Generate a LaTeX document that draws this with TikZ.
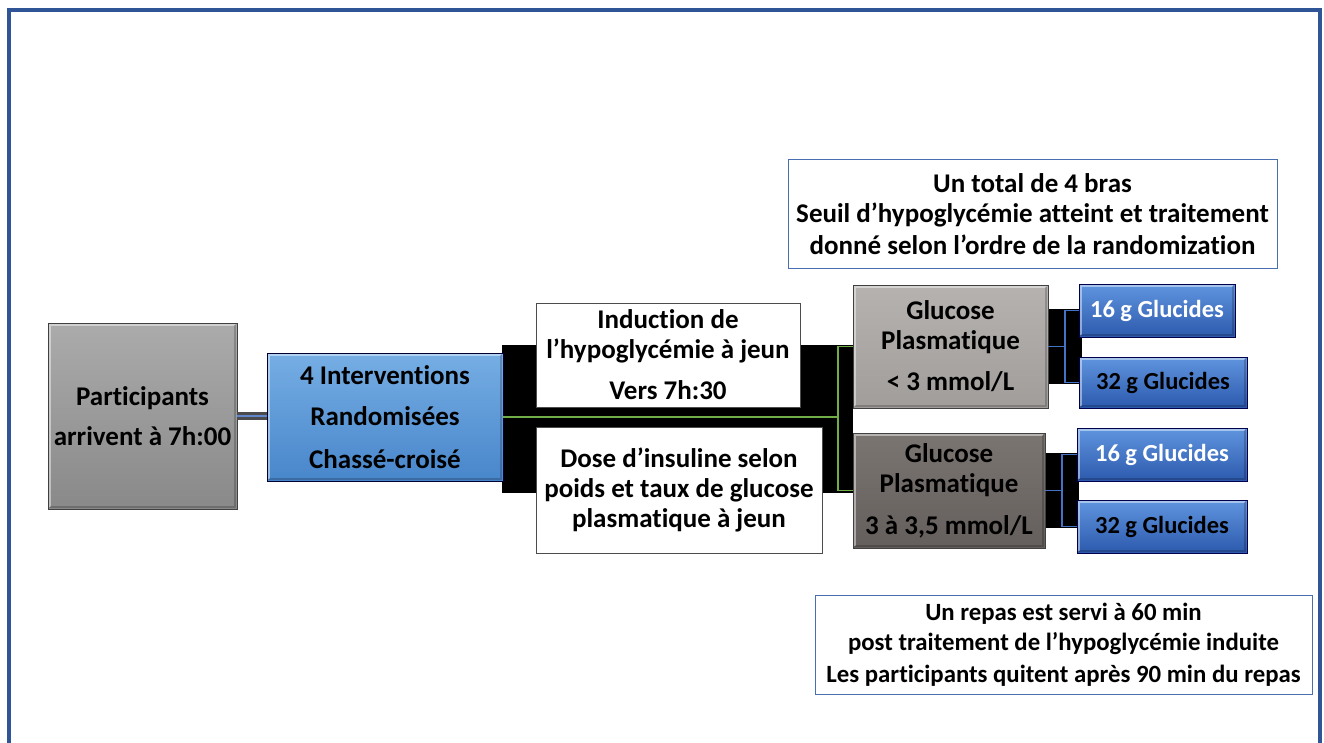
\documentclass[tikz,border=0pt]{standalone}
\usepackage{fontspec}
\setmainfont{Carlito}[Ligatures=CommonOff]
\definecolor{frameblue}{HTML}{2F5597}
\definecolor{ivtop}{HTML}{76AEE4}
\definecolor{ivbot}{HTML}{4886CB}
\definecolor{gltop}{HTML}{6095DF}
\definecolor{glbot}{HTML}{2C59AD}
\definecolor{gonetop}{HTML}{B5B2B0}
\definecolor{gonebot}{HTML}{A09D9B}
\definecolor{gtwotop}{HTML}{7B7572}
\definecolor{gtwobot}{HTML}{645E5C}
\definecolor{ptop}{HTML}{ABABAB}
\definecolor{pbot}{HTML}{898989}
\definecolor{linegreen}{HTML}{70AD47}
\definecolor{linkblue}{HTML}{4472C4}
\definecolor{notebord}{HTML}{4A6FB0}
\newcommand\bigfs{\fontsize{27}{30}\selectfont\bfseries}
\newcommand\glufs{\fontsize{24.5}{30}\selectfont\bfseries}
\newcommand\smallfs{\fontsize{24.8}{30}\selectfont\bfseries}
\tikzset{
  bevel/.style={path picture={
    \draw[white,opacity=.45,line width=2pt]
      ([xshift=2pt,yshift=2pt]path picture bounding box.south west) --
      ([xshift=2pt,yshift=-2pt]path picture bounding box.north west) --
      ([xshift=-2pt,yshift=-2pt]path picture bounding box.north east);
    \draw[black,opacity=.2,line width=2pt]
      ([xshift=-2pt,yshift=-2pt]path picture bounding box.north east) --
      ([xshift=-2pt,yshift=2pt]path picture bounding box.south east) --
      ([xshift=2pt,yshift=2pt]path picture bounding box.south west);
  }},
  box/.style={draw=black!75, line width=0.8pt, inner sep=0pt, align=center, font=\bigfs, bevel},
  partbox/.style={box, top color=ptop, bottom color=pbot},
  ivbox/.style={box, draw=black!80!blue, top color=ivtop, bottom color=ivbot},
  whitebox/.style={draw=black!70, line width=0.8pt, fill=white, inner sep=0pt, align=center, font=\bigfs},
  gonebox/.style={box, top color=gonetop, bottom color=gonebot},
  gtwobox/.style={box, top color=gtwotop, bottom color=gtwobot},
  glubox/.style={box, font=\glufs, draw=black!70!blue, top color=gltop, bottom color=glbot},
  notebox/.style={draw=notebord, line width=1pt, fill=white, inner sep=0pt, align=center},
  gline/.style={draw=linegreen, line width=1.2pt},
  bline/.style={draw=linkblue, line width=1.2pt},
  plink/.style={draw=black!70, line width=3.2pt, double=linkblue!85, double distance=1.6pt}
}
\begin{document}
\begin{tikzpicture}[x=1pt,y=-1pt]
\useasboundingbox (0,0) rectangle (1324,743);
% outer frame
\draw[frameblue, line width=4pt] (9.3,743) -- (9.3,10.3) -- (1319.5,10.3) -- (1319.5,743);
% black backing blocks
\fill[black] (502,345) rectangle (853,493);
\fill[black] (1048,309) rectangle (1082,384);
\fill[black] (1045,453) rectangle (1079,528);
% nodes
\node[partbox, minimum width=189pt, minimum height=186pt] (part) at (142.5,416)
  {Participants\\[10pt]arrivent à 7h:00};
\node[ivbox, minimum width=236pt, minimum height=128pt] (interv) at (385,417)
  {4 Interventions\\[11pt]Randomisées\\[13pt]Chassé-croisé};
\node[whitebox, minimum width=264pt, minimum height=104pt] (induc) at (668,355)
  {Induction de\\l’hypoglycémie à jeun\\[11pt]Vers 7h:30};
\node[whitebox, minimum width=286pt, minimum height=126pt] (dose) at (679,490)
  {Dose d’insuline selon\\poids et taux de glucose\\plasmatique à jeun};
\node[gonebox, minimum width=195pt, minimum height=123pt] (g1) at (950.5,346.5)
  {Glucose\\Plasmatique\\[11pt]< 3 mmol/L};
\node[gtwobox, minimum width=192pt, minimum height=115pt] (g2) at (949,490.5)
  {Glucose\\Plasmatique\\[12pt]3 à 3,5 mmol/L};
\node[glubox, text=white, minimum width=156pt, minimum height=53pt] (gla) at (1157,310.5) {16 g Glucides};
\node[glubox, text=black, minimum width=168pt, minimum height=51pt] (glb) at (1163,382.5) {32 g Glucides};
\node[glubox, text=white, minimum width=170pt, minimum height=53pt] (glc) at (1162,454.5) {16 g Glucides};
\node[glubox, text=black, minimum width=170pt, minimum height=53pt] (gld) at (1162,526.5) {32 g Glucides};
\node[notebox, font=\bigfs, minimum width=489pt, minimum height=108pt] (note1) at (1032.5,214)
  {Un total de 4 bras\\Seuil d’hypoglycémie atteint et traitement\\[2pt]donné selon l’ordre de la randomization};
\node[notebox, font=\smallfs, minimum width=497pt, minimum height=99pt] (note2) at (1063.5,644.5)
  {Un repas est servi à 60 min\\post traitement de l’hypoglycémie induite\\[2pt]Les participants quitent après 90 min du repas};
% connectors
\draw[plink] (part.east) -- (part.east -| interv.west);
\coordinate (gj) at (838,417);
\draw[gline] (interv.east) -- (gj);
\draw[gline] (g1.west) -| (gj) |- (g2.west);
\coordinate (bja) at (1065,346.5);
\draw[bline] (g1.east) -- (bja);
\draw[bline] (gla.west) -| (bja) |- (glb.west);
\coordinate (bjb) at (1062,490.5);
\draw[bline] (g2.east) -- (bjb);
\draw[bline] (glc.west) -| (bjb) |- (gld.west);
\end{tikzpicture}
\end{document}
